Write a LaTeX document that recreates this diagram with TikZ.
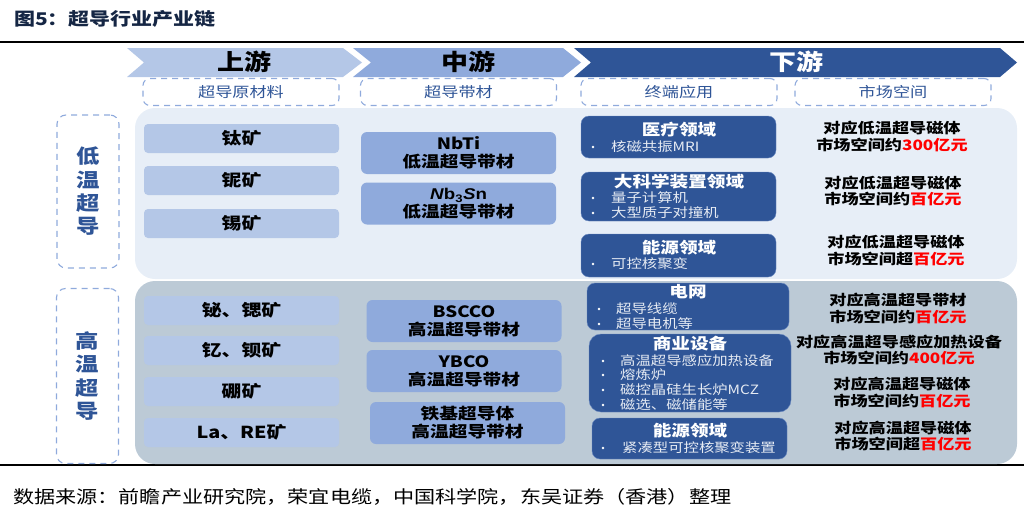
\documentclass[tikz,border=0pt]{standalone}
\usepackage{fontspec}
\setmainfont[FakeStretch=1.2]{Noto Sans CJK SC}
\newfontfamily\latfont[FakeStretch=1.2]{Liberation Sans}
\definecolor{upcol}{HTML}{B4C7E7}
\definecolor{midcol}{HTML}{8FAADC}
\definecolor{downcol}{HTML}{2F5597}
\definecolor{lowpanel}{HTML}{E7EEF7}
\definecolor{highpanel}{HTML}{BCCAD6}
\tikzset{
    head/.style={font=\bfseries\fontsize{22.5}{24}\selectfont, inner sep=0},
    dashbox/.style={draw=midcol, line width=1.1pt, dash pattern=on 6pt off 5pt, rounded corners=7pt,
        minimum width=196, minimum height=27, inner sep=0, text=downcol, font=\fontsize{14.3}{16}\selectfont},
    sidebox/.style={draw=midcol, line width=1.1pt, dash pattern=on 6pt off 5pt, rounded corners=9pt,
        minimum width=62, inner sep=0, align=center, text=downcol,
        font=\bfseries\fontsize{19.5}{23.3}\selectfont},
    orecell/.style={fill=upcol, rounded corners=4pt, minimum width=195, minimum height=29, inner sep=0,
        font=\bfseries\fontsize{16.5}{18}\selectfont},
    tapecell/.style={fill=midcol, rounded corners=6pt, minimum width=195, minimum height=42, inner sep=0,
        align=center, font=\bfseries\fontsize{15.6}{18}\selectfont},
    usebox/.style={fill=downcol, draw=midcol!60!downcol, rounded corners=8pt, inner sep=0},
    usetitle/.style={text=white, inner sep=0, font=\bfseries\fontsize{15.5}{17}\selectfont},
    item/.style={text=white!88!downcol, anchor=west, inner sep=0, font=\fontsize{12.8}{14}\selectfont},
    market/.style={align=center, inner sep=0, font=\bfseries\fontsize{14.3}{16.5}\selectfont},
}
\newcommand*{\redt}[1]{\textcolor{red}{#1}}
\begin{document}
\begin{tikzpicture}[x=1pt, y=-1pt]
    \useasboundingbox (0,0) rectangle (1024,522);
    % title and rules
    \node[anchor=west, inner sep=0, text=downcol!45!black, font=\bfseries\fontsize{17.5}{20}\selectfont] (title) at (14,19) {图5\char"FF1A 超导行业产业链};
    \draw[line width=2pt] (0,41.5)--(1024,41.5);
    \draw[line width=2pt] (0,465)--(1024,465);
    % panels
    \fill[lowpanel, rounded corners=20pt] (135,108) rectangle (1017,279);
    \fill[highpanel, rounded corners=20pt] (135,281) rectangle (1017,464);
    % chevrons
    \fill[upcol] (127,48)--(343,48)--(362,62.5)--(343,77)--(127,77)--(144,62.5)--cycle;
    \fill[midcol] (353,48)--(563,48)--(581,62.5)--(563,77)--(353,77)--(371,62.5)--cycle;
    \fill[downcol] (574,48)--(1000,48)--(1017,62.5)--(1000,77)--(574,77)--(591,62.5)--cycle;
    \node[head] (up) at (244,62) {上游};
    \node[head] (mid) at (468,62) {中游};
    \node[head, text=white] (down) at (796,62) {下游};
    % column labels
    \node[dashbox] (rawlab) at (241,92) {超导原材料};
    \node[dashbox] (tapelab) at (458.5,92) {超导带材};
    \node[dashbox] (uselab) at (679,92) {终端应用};
    \node[dashbox] (marketlab) at (893,92) {市场空间};
    % side labels
    \node[sidebox, minimum height=153] (lowtc) at (88,191.5) {低\\温\\超\\导};
    \node[sidebox, minimum height=175] (hightc) at (87.5,376) {高\\温\\超\\导};
    % ores
    \node[orecell] (ti) at (241.5,138.5) {钛矿};
    \node[orecell] (nb) at (241.5,180.5) {铌矿};
    \node[orecell] (sn) at (241.5,223.5) {锡矿};
    \node[orecell] (bi) at (241.5,310.5) {铋、锶矿};
    \node[orecell] (yt) at (241.5,350.5) {钇、钡矿};
    \node[orecell] (bo) at (241.5,391.5) {硼矿};
    \node[orecell] (la) at (241.5,432.5) {La、RE矿};
    % tapes
    \node[tapecell] (nbti) at (458.5,153) {NbTi\\低温超导带材};
    \node[tapecell] (nbsn) at (458.5,203.5) {{\latfont\textit{N}b\textsubscript{3}\textit{S}n}\\低温超导带材};
    \node[tapecell] (bscco) at (464,321) {BSCCO\\高温超导带材};
    \node[tapecell] (ybco) at (464,371) {YBCO\\高温超导带材};
    \node[tapecell] (iron) at (467.5,423) {铁基超导体\\高温超导带材};
    % applications
    \node[usebox, minimum width=195, minimum height=42] (medbox) at (678.5,137) {};
    \node[usebox, minimum width=195, minimum height=49] (scibox) at (678.5,196.5) {};
    \node[usebox, minimum width=195, minimum height=43] (enbox) at (678.5,255.5) {};
    \node[usebox, minimum width=202, minimum height=47] (gridbox) at (688,306.5) {};
    \node[usebox, minimum width=202, minimum height=78, rounded corners=12pt] (bizbox) at (690,373) {};
    \node[usebox, minimum width=195, minimum height=41] (fusbox) at (689.5,438.5) {};
    \node[usetitle] (med) at (679,130) {医疗领域};
    \node[item] (mri) at (611,147) {核磁共振MRI};
    \node[usetitle] (sci) at (679,182) {大科学装置领域};
    \node[item] (qc) at (611,198) {量子计算机};
    \node[item] (lhc) at (611,213) {大型质子对撞机};
    \node[usetitle] (en) at (679,248) {能源领域};
    \node[item] (cf) at (611,264) {可控核聚变};
    \node[usetitle] (grid) at (688,292) {电网};
    \node[item] (cable) at (616,309) {超导线缆};
    \node[item] (motor) at (616,324) {超导电机等};
    \node[usetitle] (biz) at (690,344) {商业设备};
    \node[item] (heat) at (620,361) {高温超导感应加热设备};
    \node[item] (furn) at (620,375) {熔炼炉};
    \node[item] (mcz) at (620,390) {磁控晶硅生长炉MCZ};
    \node[item] (sep) at (620,405) {磁选、磁储能等};
    \node[usetitle] (fus) at (690,431) {能源领域};
    \node[item] (tok) at (622,448) {紧凑型可控核聚变装置};
    \foreach \x/\y in {593/147, 593/198, 593/213, 593/264, 599/309, 599/324, 603/361, 603/375, 603/390, 603/405, 603/448}
        \fill[white] (\x,\y) circle(1.4);
    % market size
    \node[market] (m1) at (892,136.5) {对应低温超导磁体\\市场空间约\redt{300亿元}};
    \node[market] (m2) at (893,191) {对应低温超导磁体\\市场空间约\redt{百亿元}};
    \node[market] (m3) at (896,250.5) {对应低温超导磁体\\市场空间超\redt{百亿元}};
    \node[market] (m4) at (898,308.5) {对应高温超导带材\\市场空间约\redt{百亿元}};
    \node[market] (m5) at (899,350) {对应高温超导感应加热设备\\市场空间约\redt{400亿元}};
    \node[market] (m6) at (902,392.5) {对应高温超导磁体\\市场空间约\redt{百亿元}};
    \node[market] (m7) at (903,436) {对应高温超导磁体\\市场空间超\redt{百亿元}};
    % source
    \node[anchor=west, inner sep=0, font=\fontsize{17.6}{19}\selectfont] (source) at (13,497) {数据来源\char"FF1A 前瞻产业研究院\char"FF0C 荣宜电缆\char"FF0C 中国科学院\char"FF0C 东吴证券\char"FF08 香港\char"FF09 整理};
\end{tikzpicture}
\end{document}
